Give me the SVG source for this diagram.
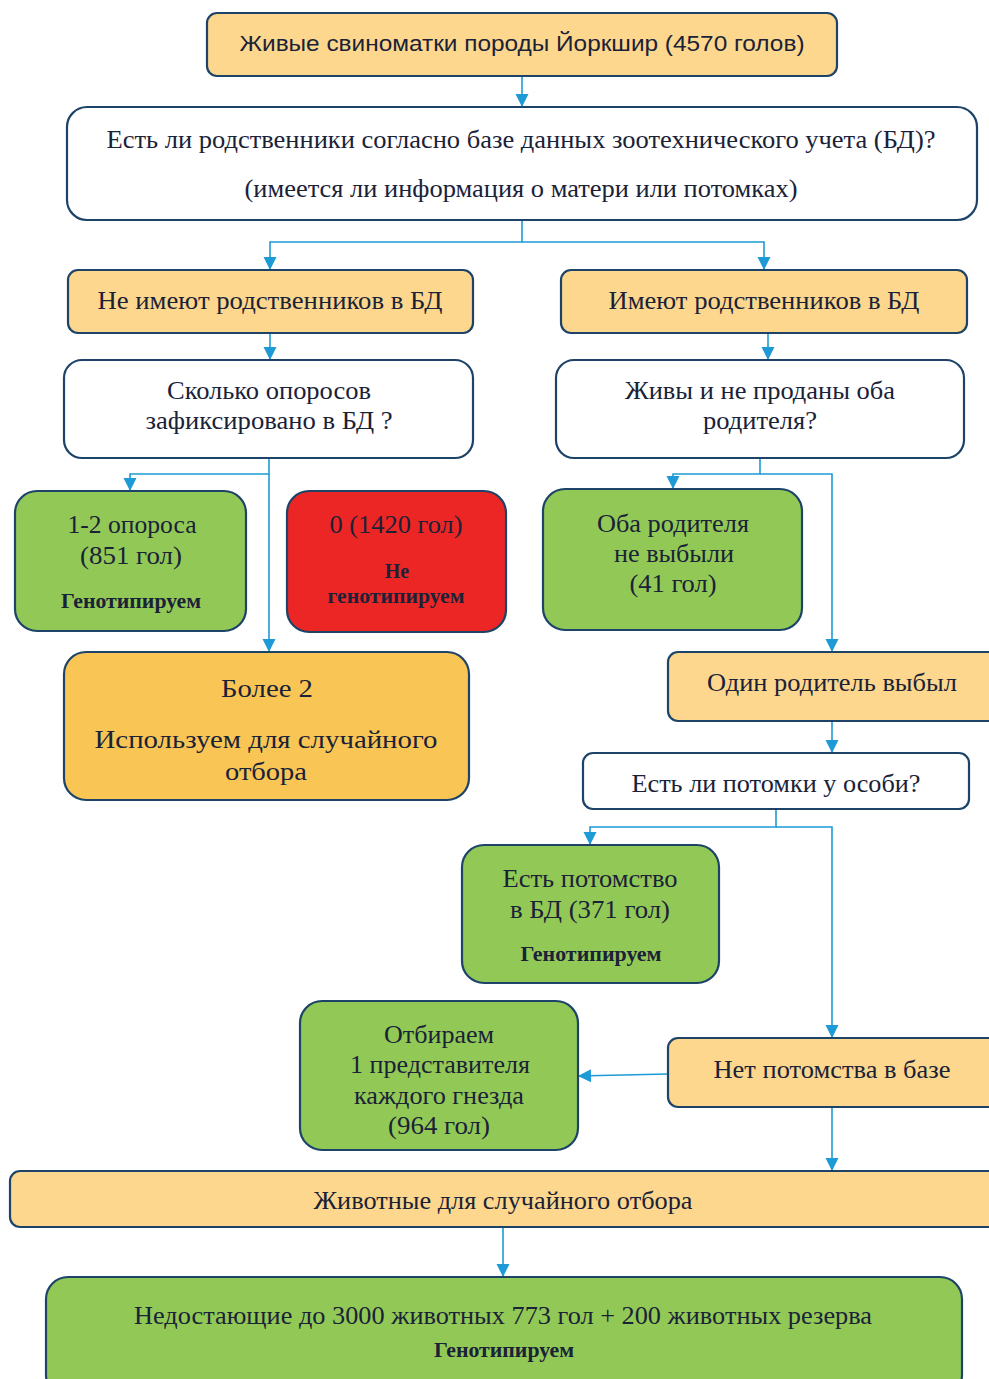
<svg xmlns="http://www.w3.org/2000/svg" width="989" height="1379" viewBox="0 0 989 1379">
<defs>
<marker id="ah" markerUnits="userSpaceOnUse" markerWidth="14" markerHeight="14" refX="13" refY="7" orient="auto">
<path d="M0 0.5 L13 7 L0 13.5 Z" fill="#1e9ad6"/>
</marker>
</defs>
<style>
.box{stroke:#1d4468;stroke-width:2.2}
.lo{fill:#fcd78d}
.or{fill:#f9c655}
.gr{fill:#92c956}
.rd{fill:#ec2525}
.wh{fill:#ffffff}
.t{font-family:"Liberation Serif","Times New Roman",serif;font-size:25px;fill:#1a2238;text-anchor:middle}
.b{font-family:"Liberation Serif","Times New Roman",serif;font-size:20px;font-weight:bold;fill:#1a2238;text-anchor:middle}
.s{font-family:"Liberation Sans",Arial,sans-serif;font-size:22px;fill:#1a2238;text-anchor:middle}
.c{fill:none;stroke:#1e9ad6;stroke-width:1.6}
</style>
<rect width="989" height="1379" fill="#ffffff"/>
<g id="connectors">
<path class="c" d="M522 76 V107" marker-end="url(#ah)"/>
<path class="c" d="M522 220 V242 H270 V270" marker-end="url(#ah)"/>
<path class="c" d="M522 242 H764 V270" marker-end="url(#ah)"/>
<path class="c" d="M270 333 V360" marker-end="url(#ah)"/>
<path class="c" d="M768 333 V360" marker-end="url(#ah)"/>
<path class="c" d="M269 458 V474 H130 V491" marker-end="url(#ah)"/>
<path class="c" d="M269 474 V652" marker-end="url(#ah)"/>
<path class="c" d="M760 458 V474 H673 V489" marker-end="url(#ah)"/>
<path class="c" d="M760 474 H832 V652" marker-end="url(#ah)"/>
<path class="c" d="M832 721 V753" marker-end="url(#ah)"/>
<path class="c" d="M776 809 V827 H590 V845" marker-end="url(#ah)"/>
<path class="c" d="M776 827 H832 V1038" marker-end="url(#ah)"/>
<path class="c" d="M668 1074 L578 1076" marker-end="url(#ah)"/>
<path class="c" d="M832 1107 V1171" marker-end="url(#ah)"/>
<path class="c" d="M503 1227 V1277" marker-end="url(#ah)"/>
</g>
<g id="n1">
<rect class="box lo" x="207" y="13" width="630" height="63" rx="10"/>
<text class="s" x="522" y="51" textLength="565" lengthAdjust="spacingAndGlyphs">Живые свиноматки породы Йоркшир (4570 голов)</text>
</g>
<g id="n2">
<rect class="box wh" x="67" y="107" width="910" height="113" rx="20"/>
<text class="t" x="521" y="148" textLength="829" lengthAdjust="spacingAndGlyphs">Есть ли родственники согласно базе данных зоотехнического учета (БД)?</text>
<text class="t" x="521" y="197" textLength="553" lengthAdjust="spacingAndGlyphs">(имеется ли информация о матери или потомках)</text>
</g>
<g id="n3">
<rect class="box lo" x="68" y="270" width="405" height="63" rx="10"/>
<text class="t" x="270" y="309" textLength="345" lengthAdjust="spacingAndGlyphs">Не имеют родственников в БД</text>
</g>
<g id="n4">
<rect class="box lo" x="561" y="270" width="406" height="63" rx="10"/>
<text class="t" x="764" y="309" textLength="311" lengthAdjust="spacingAndGlyphs">Имеют родственников в БД</text>
</g>
<g id="n5">
<rect class="box wh" x="64" y="360" width="409" height="98" rx="18"/>
<text class="t" x="269" y="399" textLength="204" lengthAdjust="spacingAndGlyphs">Сколько опоросов</text>
<text class="t" x="269" y="429" textLength="247" lengthAdjust="spacingAndGlyphs">зафиксировано в БД ?</text>
</g>
<g id="n6">
<rect class="box wh" x="556" y="360" width="408" height="98" rx="18"/>
<text class="t" x="760" y="399" textLength="270" lengthAdjust="spacingAndGlyphs">Живы и не проданы оба</text>
<text class="t" x="760" y="429" textLength="114" lengthAdjust="spacingAndGlyphs">родителя?</text>
</g>
<g id="n7">
<rect class="box gr" x="15" y="491" width="231" height="140" rx="22"/>
<text class="t" x="132" y="533" textLength="129" lengthAdjust="spacingAndGlyphs">1-2 опороса</text>
<text class="t" x="131" y="564" textLength="102" lengthAdjust="spacingAndGlyphs">(851 гол)</text>
<text class="b" x="131" y="608" textLength="140" lengthAdjust="spacingAndGlyphs">Генотипируем</text>
</g>
<g id="n8">
<rect class="box rd" x="287" y="491" width="219" height="141" rx="22"/>
<text class="t" x="396" y="533" textLength="133" lengthAdjust="spacingAndGlyphs">0 (1420 гол)</text>
<text class="b" x="397" y="578">Не</text>
<text class="b" x="396" y="603" textLength="137" lengthAdjust="spacingAndGlyphs">генотипируем</text>
</g>
<g id="n9">
<rect class="box or" x="64" y="652" width="405" height="148" rx="22"/>
<text class="t" x="267" y="697" font-size="27" textLength="92" lengthAdjust="spacingAndGlyphs">Более 2</text>
<text class="t" x="266" y="748" font-size="27" textLength="343" lengthAdjust="spacingAndGlyphs">Используем для случайного</text>
<text class="t" x="266" y="780" font-size="27" textLength="82" lengthAdjust="spacingAndGlyphs">отбора</text>
</g>
<g id="n10">
<rect class="box gr" x="543" y="489" width="259" height="141" rx="22"/>
<text class="t" x="673" y="532" textLength="152" lengthAdjust="spacingAndGlyphs">Оба родителя</text>
<text class="t" x="674" y="562" textLength="120" lengthAdjust="spacingAndGlyphs">не выбыли</text>
<text class="t" x="673" y="592" textLength="87" lengthAdjust="spacingAndGlyphs">(41 гол)</text>
</g>
<g id="n11">
<rect class="box lo" x="668" y="652" width="340" height="69" rx="10"/>
<text class="t" x="832" y="691" textLength="250" lengthAdjust="spacingAndGlyphs">Один родитель выбыл</text>
</g>
<g id="n12">
<rect class="box wh" x="583" y="753" width="386" height="56" rx="10"/>
<text class="t" x="776" y="792" textLength="289" lengthAdjust="spacingAndGlyphs">Есть ли потомки у особи?</text>
</g>
<g id="n13">
<rect class="box gr" x="462" y="845" width="257" height="138" rx="22"/>
<text class="t" x="590" y="887" textLength="175" lengthAdjust="spacingAndGlyphs">Есть потомство</text>
<text class="t" x="590" y="918" textLength="160" lengthAdjust="spacingAndGlyphs">в БД (371 гол)</text>
<text class="b" x="591" y="961" textLength="141" lengthAdjust="spacingAndGlyphs">Генотипируем</text>
</g>
<g id="n14">
<rect class="box gr" x="300" y="1001" width="278" height="149" rx="22"/>
<text class="t" x="439" y="1043" textLength="110" lengthAdjust="spacingAndGlyphs">Отбираем</text>
<text class="t" x="440" y="1073" textLength="180" lengthAdjust="spacingAndGlyphs">1 представителя</text>
<text class="t" x="439" y="1104" textLength="170" lengthAdjust="spacingAndGlyphs">каждого гнезда</text>
<text class="t" x="439" y="1134" textLength="102" lengthAdjust="spacingAndGlyphs">(964 гол)</text>
</g>
<g id="n15">
<rect class="box lo" x="668" y="1038" width="340" height="69" rx="10"/>
<text class="t" x="832" y="1078" textLength="237" lengthAdjust="spacingAndGlyphs">Нет потомства в базе</text>
</g>
<g id="n16">
<rect class="box lo" x="10" y="1171" width="998" height="56" rx="10"/>
<text class="t" x="503" y="1209" textLength="379" lengthAdjust="spacingAndGlyphs">Животные для случайного отбора</text>
</g>
<g id="n17">
<rect class="box gr" x="46" y="1277" width="916" height="120" rx="22"/>
<text class="t" x="503" y="1324" textLength="738" lengthAdjust="spacingAndGlyphs">Недостающие до 3000 животных 773 гол + 200 животных резерва</text>
<text class="b" x="504" y="1357" textLength="140" lengthAdjust="spacingAndGlyphs">Генотипируем</text>
</g>
</svg>
